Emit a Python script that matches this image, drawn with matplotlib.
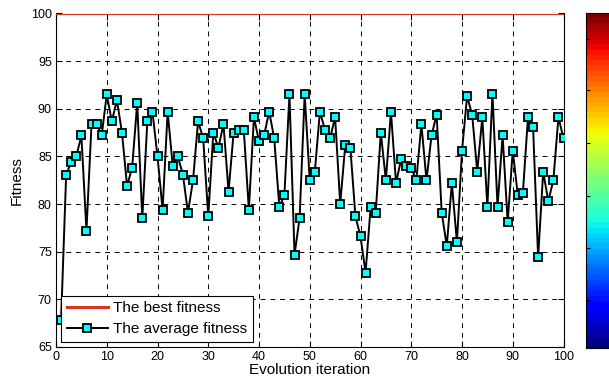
import numpy as np
import matplotlib
matplotlib.use("Agg")
import matplotlib.pyplot as plt

plt.rcParams['font.family'] = ['Liberation Sans', 'DejaVu Sans']

iterations = list(range(1, 101))
avg_fitness = [
    67.8, 83.1, 84.4, 85.0, 87.2, 77.2, 88.4, 88.4, 87.2, 91.5,
    88.7, 90.9, 87.5, 81.9, 83.8, 90.6, 78.5, 88.7, 89.7, 85.0,
    79.4, 89.7, 84.0, 85.0, 83.1, 79.1, 82.5, 88.7, 86.9, 78.7,
    87.5, 85.9, 88.4, 81.3, 87.5, 87.8, 87.8, 79.4, 89.1, 86.6,
    87.2, 89.7, 86.9, 79.7, 80.9, 91.5, 74.7, 78.5, 91.5, 82.5,
    83.4, 89.7, 87.8, 86.9, 89.1, 80.0, 86.2, 85.9, 78.7, 76.6,
    72.8, 79.7, 79.1, 87.5, 82.5, 89.7, 82.2, 84.7, 84.0, 83.8,
    82.5, 88.4, 82.5, 87.2, 89.4, 79.1, 75.6, 82.2, 76.0, 85.6,
    91.3, 89.4, 83.4, 89.1, 79.7, 91.6, 79.7, 87.2, 78.1, 85.6,
    80.9, 81.2, 89.1, 88.1, 74.4, 83.4, 80.3, 82.5, 89.1, 86.9,
]
best_x = [0, 100]
best_fitness = [100, 100]

xticks = list(range(0, 101, 10))
yticks = list(range(65, 101, 5))
colorbar_ticks = [39, 90, 143, 196, 248, 300]  # pixel rows of the colorbar ticks

W, H = 609, 387
fig = plt.figure(figsize=(W / 100, H / 100), dpi=100)
ax = fig.add_axes([56 / W, (H - 347) / H, 507.5 / W, 333.5 / H])

ax.plot(best_x, best_fitness, color='#D9381E', lw=2.2, label='The best fitness', zorder=3)
ax.plot(iterations, avg_fitness, color='black', lw=1.4, marker='s', ms=5.8,
        mfc='#00FFFF', mec='black', mew=1.3, label='The average fitness', zorder=4)

ax.set_xlim(0, 100)
ax.set_ylim(65, 100)
ax.set_xticks(xticks)
ax.set_yticks(yticks)
ax.tick_params(direction='in', top=True, right=True, labelsize=9, length=4, width=0.8, pad=3)
ax.grid(True, color='black', linestyle=(0, (5, 5)), lw=0.7)
for s in ax.spines.values():
    s.set_linewidth(0.8)
ax.set_xlabel('Evolution iteration', fontsize=11, labelpad=0)
ax.set_ylabel('Fitness', fontsize=11, labelpad=5)

leg = ax.legend(loc='lower left', fontsize=11, frameon=True, fancybox=False,
                edgecolor='black', framealpha=1, borderpad=0.35, handlelength=2.7,
                labelspacing=0.45, borderaxespad=0.35, handletextpad=0.35)
leg.get_frame().set_linewidth(0.8)

# colorbar (jet), partially cut by the figure edge
cax = fig.add_axes([585.7 / W, (H - 348) / H, 30 / W, 335 / H])
grad = np.linspace(1, 0, 64).reshape(-1, 1)
cax.imshow(grad, aspect='auto', cmap=plt.get_cmap('jet', 64), extent=[0, 1, 348, 13])
cax.set_xlim(0, 1)
cax.set_ylim(348, 13)
cax.set_xticks([])
cax.set_yticks(colorbar_ticks)
cax.set_yticklabels([])
cax.tick_params(direction='in', left=True, right=True, length=3, width=0.8)
for s in cax.spines.values():
    s.set_linewidth(0.8)

fig.savefig('out.png', dpi=100)
